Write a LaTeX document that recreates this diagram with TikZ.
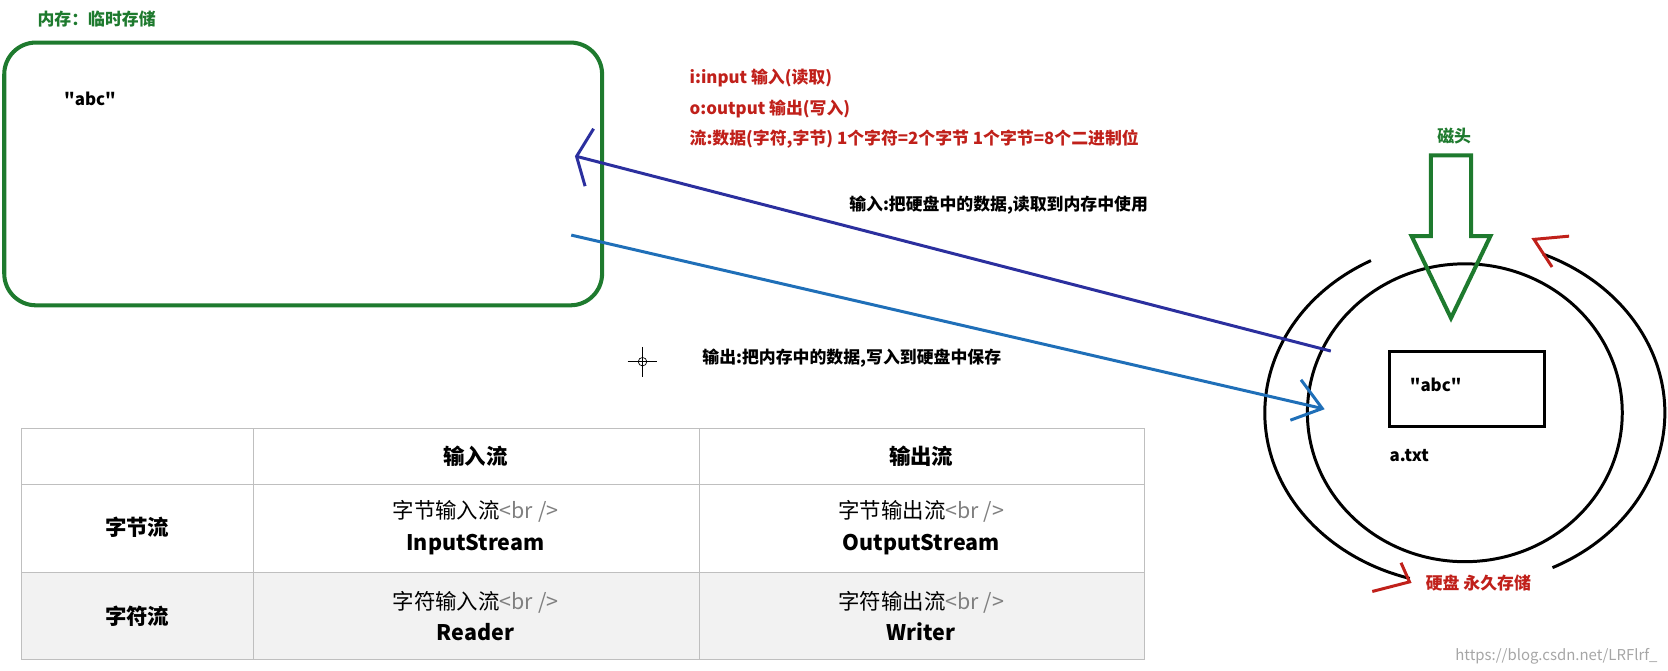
\documentclass[tikz,border=0pt]{standalone}
\usepackage{fontspec}
\setmainfont{Noto Sans CJK SC}[Ligatures=TeXOff]
\usepackage{xcolor}
\usetikzlibrary{positioning}
\definecolor{memgreen}{HTML}{1E7A2E}
\definecolor{inblue}{HTML}{2B2F9E}
\definecolor{outblue}{HTML}{1F6FB8}
\definecolor{notered}{HTML}{C0201A}
\definecolor{rowgray}{HTML}{F2F2F2}
\begin{document}
\begin{tikzpicture}[x=0.021276cm, y=-0.021276cm]
    % Styles
    \tikzset{note/.style={anchor=west, inner sep=0pt, font=\fontsize{9.6}{11}\selectfont\bfseries},
             cell/.style={align=center, font=\fontsize{12.2}{18}\selectfont},
             head/.style={cell, font=\fontsize{12.2}{18}\selectfont\bfseries},
             pen/.style={line width=1.7pt}}
    \useasboundingbox (0,0) rectangle (1568,630);

    % Memory
    \node [note, text=memgreen] (memtitle) at (35,18) {内存：临时存储};
    \draw [memgreen, line width=2.3pt, rounded corners=18] (4,40) rectangle (566,287);
    \node [note] (memabc) at (60,93) {"abc"};

    % Notes
    \node [note, text=notered] (ionote) at (648,73) {i:input 输入(读取)};
    \node [note, text=notered] (oonote) at (648,102) {o:output 输出(写入)};
    \node [note, text=notered] (flownote) at (648,131) {流:数据(字符,字节) 1个字符=2个字节 1个字节=8个二进制位};
    \node [note] (innote) at (798,193) {输入:把硬盘中的数据,读取到内存中使用};
    \node [note] (outnote) at (660,337) {输出:把内存中的数据,写入到硬盘中保存};

    % Disk
    \coordinate (diskc) at (1377,388);
    \draw [pen] (diskc) ellipse [x radius=148, y radius=140];
    \draw [pen] (diskc) ++(-118:188 and 162) arc [start angle=-118, end angle=-254, x radius=188, y radius=162];
    \draw [pen] (diskc) ++(-296:188 and 162) arc [start angle=-296, end angle=-427, x radius=188, y radius=162];
    \draw [notered, pen] (1475,222) -- (1442,225) -- (1459,251);
    \draw [notered, pen] (1290,556) -- (1325,547) -- (1317,529);
    \node [note, text=notered] (disknote) at (1340,548) {硬盘 永久存储};
    \draw [pen] (1306,330) rectangle (1452,401);
    \node [note] (fileabc) at (1325,362) {"abc"};
    \node [note] (filename) at (1306,428) {a.txt};

    % Head
    \node [note, text=memgreen, anchor=center] (headnote) at (1367,128) {磁头};
    \draw [memgreen, line width=2.3pt] (1345,146) -- (1383,146) -- (1383,222) -- (1401,222)
        -- (1364,299) -- (1327,222) -- (1345,222) -- cycle;

    % Streams
    \coordinate (inend) at (1251,330);
    \coordinate (outstart) at (537,221);
    \draw [inblue, pen] (inend) -- (542,147);
    \draw [inblue, pen] (558,121) -- (542,147) -- (550,175);
    \draw [outblue, pen] (outstart) -- (1243,384);
    \draw [outblue, pen] (1223,357) -- (1243,384) -- (1213,395);

    % Cursor
    \draw [thin] (604,340) circle [radius=4];
    \draw [thin] (590,340) -- (618,340) (604,326) -- (604,354);

    % Table
    \fill [rowgray] (20,538) rectangle (1076,620);
    \draw [gray!50] (20,403) rectangle (1076,620);
    \draw [gray!50] (20,455) -- (1076,455) (20,538) -- (1076,538) (238,403) -- (238,620) (657,403) -- (657,620);
    \node [head] (hin) at (447,429) {输入流};
    \node [head] (hout) at (866,429) {输出流};
    \node [head] (rbyte) at (129,496) {字节流};
    \node [head] (rchar) at (129,579) {字符流};
    \node [cell] (inbyte) at (447,496) {字节输入流\textcolor{gray}{<br />}\\\textbf{InputStream}};
    \node [cell] (outbyte) at (866,496) {字节输出流\textcolor{gray}{<br />}\\\textbf{OutputStream}};
    \node [cell] (inchar) at (447,579) {字符输入流\textcolor{gray}{<br />}\\\textbf{Reader}};
    \node [cell] (outchar) at (866,579) {字符输出流\textcolor{gray}{<br />}\\\textbf{Writer}};

    % Watermark
    \node [anchor=east, text=gray!70, font=\fontsize{8.5}{9}\selectfont] (mark) at (1564,617) {https://blog.csdn.net/LRFlrf\_};
\end{tikzpicture}
\end{document}
